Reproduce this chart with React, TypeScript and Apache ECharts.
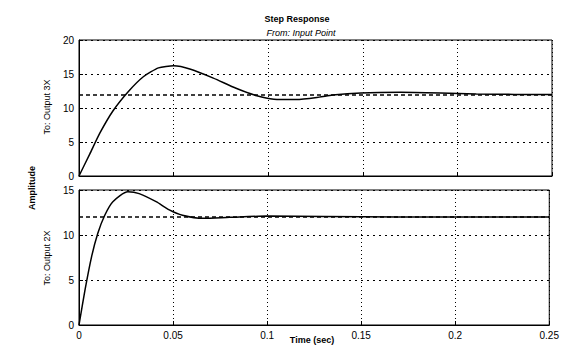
import React, { useEffect, useRef } from "react";
import * as echarts from "echarts";

const timeTop = [0, 0.0058, 0.011, 0.018, 0.026, 0.034, 0.042, 0.05, 0.059, 0.071, 0.083, 0.094, 0.103, 0.115, 0.127, 0.134, 0.149, 0.17, 0.191, 0.21, 0.23, 0.25];
const valTop = [0, 3.3, 6.3, 9.6, 12.4, 14.6, 15.9, 16.2, 15.7, 14.4, 12.9, 11.8, 11.3, 11.25, 11.6, 11.9, 12.2, 12.3, 12.2, 12.06, 12.0, 12.0];
const timeBottom = [0, 0.0032, 0.0067, 0.010, 0.0137, 0.018, 0.026, 0.032, 0.041, 0.048, 0.055, 0.066, 0.08, 0.1, 0.13, 0.17, 0.21, 0.25];
const valBottom = [0, 3.9, 7.6, 10.2, 12.2, 13.7, 14.8, 14.6, 13.7, 12.8, 12.2, 11.85, 11.96, 12.1, 12.05, 12.0, 12.0, 12.0];
const steadyTop = 12;
const steadyBottom = 12;
const xTicks = [0, 0.05, 0.1, 0.15, 0.2, 0.25];
const yTicksTop = [0, 5, 10, 15, 20];
const yTicksBottom = [0, 5, 10, 15];

const FONT = "Liberation Sans";

export default function App() {
  const ref = useRef<HTMLDivElement>(null);
  useEffect(() => {
    if (!ref.current) return;
    const chart = echarts.init(ref.current, null, { renderer: "svg" });
    const grid = (top: number, height: number) => ({
      left: 79,
      right: 10,
      top,
      height,
      show: true,
      borderColor: "#000",
      borderWidth: 1,
      backgroundColor: "#fff",
    });
    const xAxisBase = (gridIndex: number, showLabels: boolean) => ({
      type: "value",
      gridIndex,
      min: 0,
      max: 0.25,
      interval: 0.05,
      axisLine: { show: true, lineStyle: { color: "#000", width: 1 } },
      axisTick: { show: true, inside: true, length: 4, lineStyle: { color: "#000" } },
      splitLine: { show: true, lineStyle: { color: "#000", type: [1, 3], width: 1 } },
      axisLabel: {
        show: showLabels,
        color: "#000",
        fontFamily: FONT,
        fontSize: 10,
        margin: 5,
        formatter: (v: number) => {
          const found = xTicks.find((t) => Math.abs(t - v) < 1e-9);
          return found === undefined ? "" : String(found);
        },
      },
    });
    const yAxisBase = (gridIndex: number, max: number, ticks: number[]) => ({
      type: "value",
      gridIndex,
      min: 0,
      max,
      interval: 5,
      axisLine: { show: true, lineStyle: { color: "#000", width: 1 } },
      axisTick: { show: true, inside: true, length: 4, lineStyle: { color: "#000" } },
      splitLine: { show: true, lineStyle: { color: "#000", type: [2, 4], width: 1 } },
      axisLabel: {
        color: "#000",
        fontFamily: FONT,
        fontSize: 10,
        margin: 5,
        formatter: (v: number) => (ticks.includes(v) ? String(v) : ""),
      },
    });
    const markLine = (y: number) => ({
      silent: true,
      symbol: "none",
      label: { show: false },
      lineStyle: { color: "#000", type: [4, 3], width: 1.5 },
      data: [{ yAxis: y }],
    });
    chart.setOption({
      animation: false,
      backgroundColor: "#fff",
      title: [
        {
          text: "Step Response",
          left: 292,
          top: 9,
          textAlign: "center",
          textStyle: { fontFamily: FONT, fontSize: 9, fontWeight: "bold", color: "#000" },
        },
        {
          text: "From: Input Point",
          left: 296,
          top: 23,
          textAlign: "center",
          textStyle: { fontFamily: FONT, fontSize: 9, fontStyle: "italic", fontWeight: "normal", color: "#000" },
        },
      ],
      grid: [grid(40, 136), grid(190, 135)],
      xAxis: [xAxisBase(0, false), xAxisBase(1, true)],
      yAxis: [yAxisBase(0, 20, yTicksTop), yAxisBase(1, 15, yTicksBottom)],
      series: [
        {
          type: "line",
          xAxisIndex: 0,
          yAxisIndex: 0,
          data: timeTop.map((t, i) => [t, valTop[i]]),
          smooth: 0.2,
          showSymbol: false,
          lineStyle: { color: "#000", width: 1.5 },
          markLine: markLine(steadyTop),
        },
        {
          type: "line",
          xAxisIndex: 1,
          yAxisIndex: 1,
          data: timeBottom.map((t, i) => [t, valBottom[i]]),
          smooth: 0.25,
          showSymbol: false,
          lineStyle: { color: "#000", width: 1.5 },
          markLine: markLine(steadyBottom),
        },
      ],
      graphic: [
        {
          type: "text",
          x: 47,
          y: 107,
          rotation: Math.PI / 2,
          style: { text: "To: Output 3X", fontFamily: FONT, fontSize: 9, fill: "#000", align: "center", verticalAlign: "middle" },
        },
        {
          type: "text",
          x: 47,
          y: 258,
          rotation: Math.PI / 2,
          style: { text: "To: Output 2X", fontFamily: FONT, fontSize: 9, fill: "#000", align: "center", verticalAlign: "middle" },
        },
        {
          type: "text",
          x: 32,
          y: 188,
          rotation: Math.PI / 2,
          style: { text: "Amplitude", fontFamily: FONT, fontSize: 9, fontWeight: "bold", fill: "#000", align: "center", verticalAlign: "middle" },
        },
        {
          type: "text",
          x: 312,
          y: 340,
          style: { text: "Time (sec)", fontFamily: FONT, fontSize: 9, fontWeight: "bold", fill: "#000", align: "center", verticalAlign: "middle" },
        },
      ],
    });
    return () => chart.dispose();
  }, []);
  return <div ref={ref} style={{ position: "fixed", left: 0, top: 0, width: 562, height: 347 }} />;
}
